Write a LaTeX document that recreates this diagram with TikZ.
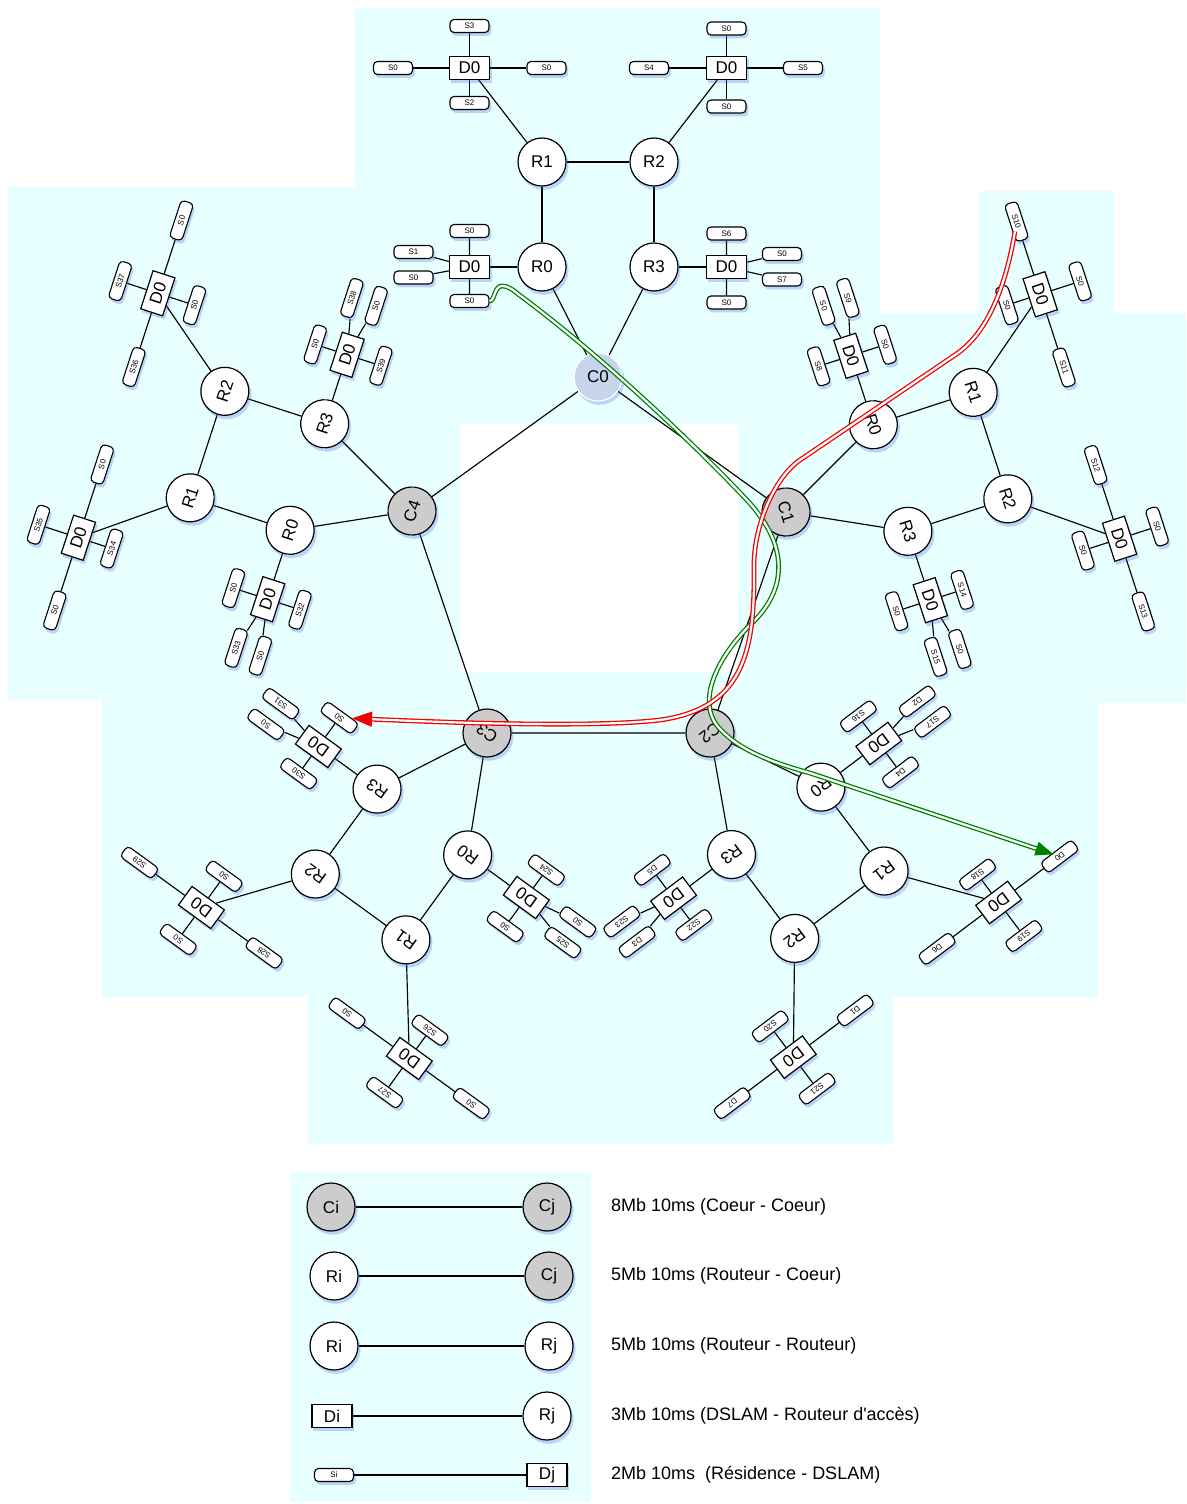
\documentclass[tikz,border=0pt]{standalone}
\usepackage{fontspec}
\setmainfont{Liberation Sans}
\newfontfamily\plainfont{Liberation Sans}
\usetikzlibrary{shadows,arrows.meta}
\definecolor{bgc}{RGB}{232,255,255}
\definecolor{coregray}{RGB}{204,204,204}
\definecolor{cohigh}{RGB}{200,212,236}
\definecolor{shadowc}{RGB}{70,100,230}
\definecolor{pathgreen}{RGB}{0,128,0}
\definecolor{pathred}{RGB}{245,0,0}
\pgfdeclarelayer{bg}
\pgfdeclarelayer{edges}
\pgfsetlayers{bg,edges,main}
\tikzset{
  shad/.style={drop shadow={shadow xshift=1.8pt,shadow yshift=-3pt,shadow scale=1.03,fill=shadowc,opacity=0.28}},
  rnode/.style={circle,draw,line width=1.2pt,fill=white,minimum size=48pt,inner sep=0pt,font=\fontsize{17}{17}\selectfont,shad},
  cnode/.style={rnode,fill=coregray},
  c0node/.style={rnode,fill=cohigh,draw=white},
  dnode/.style={rectangle,draw,line width=1.2pt,fill=white,minimum width=40pt,minimum height=23pt,inner sep=0pt,font=\fontsize{17}{17}\selectfont,shad},
  snode/.style={rectangle,rounded corners=4pt,draw,line width=1.1pt,fill=white,minimum width=39pt,minimum height=13pt,inner sep=0pt,font=\fontsize{8}{8}\selectfont,shad},
  link/.style={line width=1.15pt},
  leg/.style={anchor=west,inner sep=0pt,font=\plainfont\fontsize{18}{18}\selectfont},
  gpath/.style={draw=pathgreen,double=white,double distance=2.2pt,line width=1.3pt},
  rpath/.style={draw=pathred,double=white,double distance=2.2pt,line width=1.3pt},
}
\newcommand\setlabelsA[8]{\def\lAu{#1}\def\lAl{#2}\def\lAr{#3}\def\lAd{#4}\def\lBu{#5}\def\lBl{#6}\def\lBr{#7}\def\lBd{#8}}
\newcommand\setlabelsB[8]{\def\lCu{#1}\def\lCa{#2}\def\lCb{#3}\def\lCd{#4}\def\lDu{#5}\def\lDa{#6}\def\lDb{#7}\def\lDd{#8}}
\newcommand\mkcluster[3]{%
  \node[#2] (#1c) at (0,0) {#3};
  \node[rnode] (#1r0) at (-56,-110) {R0};
  \node[rnode] (#1r1) at (-56,-215) {R1};
  \node[rnode] (#1r2) at (56,-215) {R2};
  \node[rnode] (#1r3) at (56,-110) {R3};
  \node[dnode] (#1A) at (-128.5,-309) {D0};
  \node[snode] (#1Au) at (-128.5,-351) {\lAu};
  \node[snode] (#1Al) at (-205,-309) {\lAl};
  \node[snode] (#1Ar) at (-51.5,-309) {\lAr};
  \node[snode] (#1Ad) at (-128.5,-274) {\lAd};
  \node[dnode] (#1B) at (128.5,-309) {D0};
  \node[snode] (#1Bu) at (128.5,-348.5) {\lBu};
  \node[snode] (#1Bl) at (51,-309) {\lBl};
  \node[snode] (#1Br) at (205,-309) {\lBr};
  \node[snode] (#1Bd) at (128.5,-270.5) {\lBd};
  \node[dnode] (#1C) at (-128.5,-110) {D0};
  \node[snode] (#1Cu) at (-128.5,-146) {\lCu};
  \node[snode] (#1Ca) at (-184.5,-125) {\lCa};
  \node[snode] (#1Cb) at (-184.5,-99.5) {\lCb};
  \node[snode] (#1Cd) at (-128.5,-76) {\lCd};
  \node[dnode] (#1D) at (128.5,-110) {D0};
  \node[snode] (#1Du) at (128.5,-143.5) {\lDu};
  \node[snode] (#1Da) at (184,-123) {\lDa};
  \node[snode] (#1Db) at (184,-97.5) {\lDb};
  \node[snode] (#1Dd) at (128.5,-74.5) {\lDd};
}
\newcommand\mkedges[1]{%
  \draw[link] (#1r0) -- (#1r1) -- (#1r2) -- (#1r3);
  \draw[link] (#1r0) -- (#1c) -- (#1r3);
  \draw[link] (#1A) -- (#1r1);
  \draw[link] (#1B) -- (#1r2);
  \draw[link] (#1C) -- (#1r0);
  \draw[link] (#1D) -- (#1r3);
  \draw[link] (#1A) -- (#1Au) (#1A) -- (#1Al) (#1A) -- (#1Ar) (#1A) -- (#1Ad);
  \draw[link] (#1B) -- (#1Bu) (#1B) -- (#1Bl) (#1B) -- (#1Br) (#1B) -- (#1Bd);
  \draw[link] (#1C) -- (#1Cu) (#1C) -- (#1Ca) (#1C) -- (#1Cb) (#1C) -- (#1Cd);
  \draw[link] (#1D) -- (#1Du) (#1D) -- (#1Da) (#1D) -- (#1Db) (#1D) -- (#1Dd);
}
\begin{document}
\begin{tikzpicture}[x=1pt,y=-1pt]
\useasboundingbox (0,0) rectangle (1186,1504);
\begin{pgfonlayer}{bg}
\fill[white] (0,0) rectangle (1186,1504);
\fill[bgc] (355,8) rectangle (880,424);
\fill[bgc] (8,187) rectangle (460,700);
\fill[bgc] (978,191) rectangle (1114,313);
\fill[bgc] (738,313) rectangle (1186,703);
\fill[bgc] (102,672) rectangle (1098,997);
\fill[bgc] (308,997) rectangle (893,1144);
\fill[bgc] (290,1172) rectangle (591,1502);
\end{pgfonlayer}

% top cluster (C0)
\setlabelsA{S3}{S0}{S0}{S2}{S0}{S4}{S5}{S0}
\setlabelsB{S0}{S1}{S0}{S0}{S6}{S0}{S7}{S0}
\begin{scope}[shift={(598,377)},transform shape]
\mkcluster{k0}{c0node}{C0}
\end{scope}
% right cluster (C1)
\setlabelsA{S0}{S10}{S11}{S0}{S0}{S12}{S13}{S0}
\setlabelsB{S0}{S9}{S0}{S8}{S14}{S0}{S15}{S0}
\begin{scope}[shift={(786,512)},rotate=-72,transform shape]
\mkcluster{k1}{cnode}{C1}
\end{scope}
% bottom right cluster (C2)
\setlabelsA{S19}{D0}{D6}{S18}{S21}{D1}{D7}{S20}
\setlabelsB{D4}{S17}{D2}{S16}{S22}{D3}{S23}{D5}
\begin{scope}[shift={(710,733)},rotate=-143,transform shape]
\mkcluster{k2}{cnode}{C2}
\end{scope}
% bottom left cluster (C3)
\setlabelsA{S27}{S0}{S0}{S26}{S0}{S28}{S29}{S0}
\setlabelsB{S0}{S25}{S0}{S24}{S30}{S0}{S31}{S0}
\begin{scope}[shift={(487,733)},rotate=144,transform shape]
\mkcluster{k3}{cnode}{C3}
\end{scope}
% left cluster (C4)
\setlabelsA{S35}{S0}{S0}{S34}{S37}{S36}{S0}{S0}
\setlabelsB{S0}{S33}{S0}{S32}{S0}{S38}{S0}{S39}
\begin{scope}[shift={(412,511)},rotate=72,transform shape]
\mkcluster{k4}{cnode}{C4}
\end{scope}

% legend
\node[cnode] (l1a) at (331,1207) {Ci};
\node[cnode] (l1b) at (547,1207) {Cj};
\node[leg] (l1t) at (611,1207) {8Mb 10ms (Coeur - Coeur)};
\node[rnode] (l2a) at (334,1276) {Ri};
\node[cnode] (l2b) at (549,1276) {Cj};
\node[leg] (l2t) at (611,1276) {5Mb 10ms (Routeur - Coeur)};
\node[rnode] (l3a) at (334,1346) {Ri};
\node[rnode] (l3b) at (549,1346) {Rj};
\node[leg] (l3t) at (611,1346) {5Mb 10ms (Routeur - Routeur)};
\node[dnode] (l4a) at (332,1416) {Di};
\node[rnode] (l4b) at (547,1416) {Rj};
\node[leg] (l4t) at (611,1416) {3Mb 10ms (DSLAM - Routeur d'accès)};
\node[snode] (l5a) at (334,1475) {Si};
\node[dnode] (l5b) at (547,1475) {Dj};
\node[leg] (l5t) at (611,1475) {2Mb 10ms\ \ (Résidence - DSLAM)};

\begin{pgfonlayer}{edges}
\mkedges{k0}
\mkedges{k1}
\mkedges{k2}
\mkedges{k3}
\mkedges{k4}
\draw[link] (k0c) -- (k1c) -- (k2c) -- (k3c) -- (k4c) -- (k0c);
\draw[link] (l1a) -- (l1b);
\draw[link] (l2a) -- (l2b);
\draw[link] (l3a) -- (l3b);
\draw[link] (l4a) -- (l4b);
\draw[link] (l5a) -- (l5b);
\end{pgfonlayer}

% routes
\coordinate (gA) at (502,286);
\coordinate (gB) at (522,297);
\coordinate (gC) at (745,498);
\coordinate (gD) at (750,625);
\coordinate (gE) at (721,730);
\coordinate (gF) at (810,773);
\draw[gpath,shorten >=-2pt,-{Triangle[length=18pt,width=14pt]}] (k0Cd.east)
  .. controls (495,301) and (494,286) .. (gA)
  .. controls (510,286) and (515,292) .. (gB)
  .. controls (600,355) and (690,440) .. (gC)
  .. controls (790,545) and (788,590) .. (gD)
  .. controls (715,660) and (695,705) .. (gE)
  .. controls (740,750) and (770,762) .. (gF)
  -- (k2Al);
\coordinate (rA) at (955,355);
\coordinate (rB) at (800,460);
\coordinate (rC) at (754,565);
\coordinate (rD) at (660,720);
\draw[rpath,shorten <=10pt,-{Triangle[length=20pt,width=15pt]}] (k1Al.center)
  .. controls (1007,280) and (990,332) .. (rA)
  -- (rB)
  .. controls (775,477) and (754,525) .. (rC)
  .. controls (755,650) and (745,708) .. (rD)
  .. controls (600,727) and (480,724) .. (k3Dd);
\end{tikzpicture}
\end{document}
